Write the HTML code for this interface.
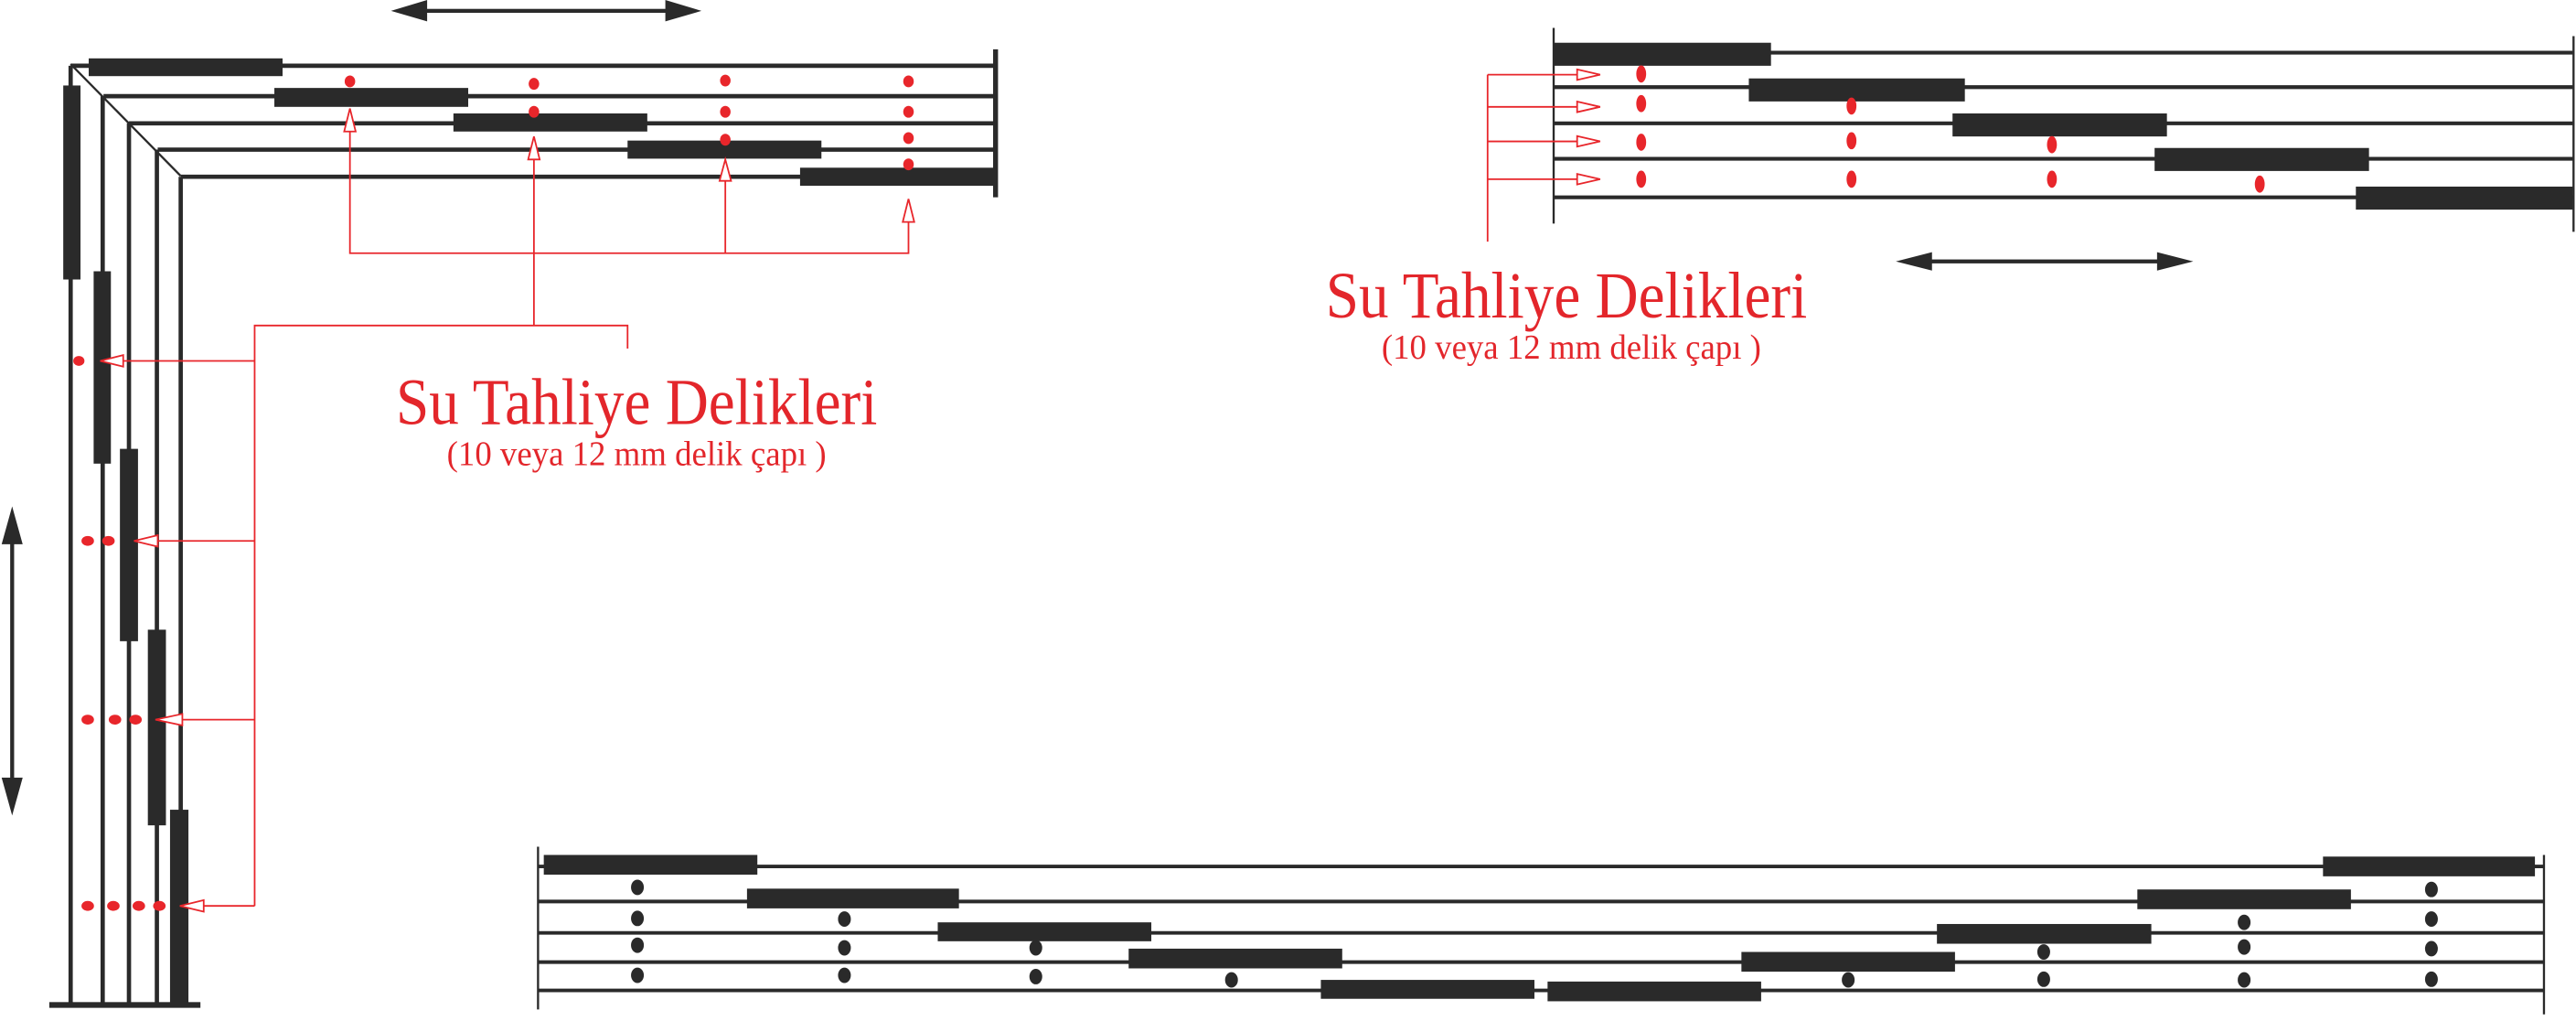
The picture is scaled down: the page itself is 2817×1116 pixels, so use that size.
<!DOCTYPE html>
<html><head><meta charset="utf-8"><style>
html,body{margin:0;padding:0;background:#fff;}
svg{display:block;}
</style></head><body>
<svg width="2817" height="1116" viewBox="0 0 1568 621" preserveAspectRatio="none" xmlns="http://www.w3.org/2000/svg">
<g stroke="#2a2a2a" stroke-width="2.6" fill="none">
  <path d="M43 40 H606 M63 58.5 H606 M78.5 75 H606 M96 91 H606 M110 107.5 H606"/>
  <path d="M43 40 V611 M62.5 58.5 V611 M78.5 75 V611 M95.5 91 V611 M110 107.5 V611"/>
  <path d="M43 39 L110 107" stroke-width="1.3"/>
</g>
<g fill="#2a2a2a">
  <rect x="604.5" y="30" width="3" height="90"/>
  <rect x="30" y="609.5" width="92" height="3.5"/>
  <rect x="54" y="35.5" width="118" height="10.8"/>
  <rect x="167" y="53.5" width="118" height="11.5"/>
  <rect x="276" y="69" width="118" height="11"/>
  <rect x="382" y="85.5" width="118" height="11"/>
  <rect x="487" y="102" width="119" height="11"/>
  <rect x="38.5" y="52" width="10.5" height="118"/>
  <rect x="57" y="165" width="10.5" height="117"/>
  <rect x="73" y="273" width="11" height="117"/>
  <rect x="90" y="383" width="11" height="119"/>
  <rect x="103.5" y="492.5" width="11.2" height="118"/>
  <rect x="258" y="5.4" width="152" height="2.4"/>
  <polygon points="238,6.6 260,0 260,13"/>
  <polygon points="427,6.6 405,0 405,13"/>
  <rect x="6.2" y="325" width="2.4" height="155"/>
  <polygon points="7.4,308 1,331 13.8,331"/>
  <polygon points="7.4,496 1,473 13.8,473"/>
</g>
<g fill="#e8262b">
  <ellipse cx="213" cy="49.5" rx="3.2" ry="3.6"/>
  <ellipse cx="325" cy="51" rx="3.2" ry="3.6"/>
  <ellipse cx="325" cy="68" rx="3.2" ry="3.6"/>
  <ellipse cx="441.5" cy="49" rx="3.2" ry="3.6"/>
  <ellipse cx="441.5" cy="68" rx="3.2" ry="3.6"/>
  <ellipse cx="441.5" cy="85" rx="3.2" ry="3.6"/>
  <ellipse cx="553" cy="49.5" rx="3.2" ry="3.6"/>
  <ellipse cx="553" cy="68" rx="3.2" ry="3.6"/>
  <ellipse cx="553" cy="84" rx="3.2" ry="3.6"/>
  <ellipse cx="553" cy="100" rx="3.2" ry="3.6"/>
  <ellipse cx="48" cy="219.5" rx="3.4" ry="3"/>
  <ellipse cx="53.4" cy="329" rx="3.8" ry="3"/>
  <ellipse cx="66" cy="329" rx="3.8" ry="3"/>
  <ellipse cx="53.4" cy="437.7" rx="3.8" ry="3"/>
  <ellipse cx="70" cy="437.7" rx="3.8" ry="3"/>
  <ellipse cx="82.5" cy="437.7" rx="3.8" ry="3"/>
  <ellipse cx="53.4" cy="551" rx="3.8" ry="3"/>
  <ellipse cx="69" cy="551" rx="3.8" ry="3"/>
  <ellipse cx="84.5" cy="551" rx="3.8" ry="3"/>
  <ellipse cx="97" cy="551" rx="3.8" ry="3"/>
</g>
<g stroke="#e8262b" stroke-width="1" fill="none">
  <path d="M213 80 V154 H553 V135 M325 97 V198 M441.5 110 V154"/>
  <path d="M155 551 V198 H382 V212"/>
  <path d="M155 219.5 H75 M155 329 H96 M155 437.7 H111 M155 551 H124"/>
</g>
<g stroke="#e8262b" stroke-width="1" fill="#fff">
  <polygon points="213,66 209.5,80 216.5,80"/>
  <polygon points="325,83 321.5,97 328.5,97"/>
  <polygon points="441.5,97 438,110 445,110"/>
  <polygon points="553,121 549.5,135 556.5,135"/>
  <polygon points="61,219.5 75,216 75,223"/>
  <polygon points="81.6,329 96,325.5 96,332.5"/>
  <polygon points="94.6,437.7 111,434.2 111,441.2"/>
  <polygon points="109.5,551 124,547.5 124,554.5"/>
</g>
<g font-family="'Liberation Serif', serif" fill="#e3262b">
  <text x="241" y="258" font-size="40" textLength="293" lengthAdjust="spacingAndGlyphs">Su Tahliye Delikleri</text>
  <text x="272" y="283" font-size="21" textLength="231" lengthAdjust="spacingAndGlyphs">(10 veya 12 mm delik çapı )</text>
  <text x="807" y="193" font-size="40" textLength="293" lengthAdjust="spacingAndGlyphs">Su Tahliye Delikleri</text>
  <text x="841" y="218" font-size="21" textLength="231" lengthAdjust="spacingAndGlyphs">(10 veya 12 mm delik çapı )</text>
</g>
<g stroke="#2a2a2a" stroke-width="2.3" fill="none">
  <path d="M946 32 H1566 M946 53 H1566 M946 75 H1566 M946 96.6 H1566 M946 120 H1566"/>
  <path d="M945.7 17 V136 M1566.5 22 V141" stroke-width="1.3"/>
</g>
<g fill="#2a2a2a">
  <rect x="946" y="26" width="132" height="14"/>
  <rect x="1064.5" y="47.7" width="131.5" height="14"/>
  <rect x="1188.5" y="69" width="130.5" height="14"/>
  <rect x="1311.5" y="90" width="130.5" height="14"/>
  <rect x="1434" y="113.5" width="132" height="14"/>
  <rect x="1163" y="157.8" width="154" height="2.4"/>
  <polygon points="1154,159 1176,153.4 1176,164.6"/>
  <polygon points="1335,159 1313,153.4 1313,164.6"/>
</g>
<g fill="#e8262b">
  <ellipse cx="999" cy="45" rx="3" ry="5.2"/>
  <ellipse cx="999" cy="63" rx="3" ry="5.2"/>
  <ellipse cx="999" cy="86.5" rx="3" ry="5.2"/>
  <ellipse cx="999" cy="109" rx="3" ry="5.2"/>
  <ellipse cx="1127" cy="64.5" rx="3" ry="5.2"/>
  <ellipse cx="1127" cy="85.6" rx="3" ry="5.2"/>
  <ellipse cx="1127" cy="109" rx="3" ry="5.2"/>
  <ellipse cx="1249" cy="88" rx="3" ry="5.2"/>
  <ellipse cx="1249" cy="109" rx="3" ry="5.2"/>
  <ellipse cx="1375.5" cy="112" rx="3" ry="5.2"/>
</g>
<g stroke="#e8262b" stroke-width="1" fill="none">
  <path d="M905.5 45.4 V147 M905.5 45.4 H960 M905.5 65 H960 M905.5 86 H960 M905.5 109 H960"/>
</g>
<g stroke="#e8262b" stroke-width="1" fill="#fff">
  <polygon points="974,45.4 960,42.2 960,48.6"/>
  <polygon points="974,65 960,61.8 960,68.2"/>
  <polygon points="974,86 960,82.8 960,89.2"/>
  <polygon points="974,109 960,105.8 960,112.2"/>
</g>
<g stroke="#2a2a2a" stroke-width="2.2" fill="none">
  <path d="M328 527 H1548 M328 548.3 H1548 M328 567.4 H1548 M328 585.2 H1548 M328 602.4 H1548"/>
  <path d="M327.5 515 V614 M1548.5 520 V617" stroke-width="1.3"/>
</g>
<g fill="#2a2a2a">
  <rect x="331" y="520" width="130" height="12"/>
  <rect x="454.7" y="540.5" width="129" height="12"/>
  <rect x="570.8" y="561" width="130" height="11.5"/>
  <rect x="687" y="577" width="130" height="12"/>
  <rect x="804" y="596" width="130" height="11.5"/>
  <rect x="1414" y="521" width="129" height="12"/>
  <rect x="1301" y="541" width="130" height="12"/>
  <rect x="1179" y="562" width="130.5" height="12"/>
  <rect x="1060" y="579" width="130" height="12"/>
  <rect x="942" y="597" width="130" height="12"/>
  <ellipse cx="388" cy="539.7" rx="3.9" ry="4.7"/>
  <ellipse cx="388" cy="558.6" rx="3.9" ry="4.7"/>
  <ellipse cx="388" cy="574.9" rx="3.9" ry="4.7"/>
  <ellipse cx="388" cy="593.2" rx="3.9" ry="4.7"/>
  <ellipse cx="514" cy="559" rx="3.9" ry="4.7"/>
  <ellipse cx="514" cy="576.5" rx="3.9" ry="4.7"/>
  <ellipse cx="514" cy="593.2" rx="3.9" ry="4.7"/>
  <ellipse cx="630.5" cy="576.5" rx="3.9" ry="4.7"/>
  <ellipse cx="630.5" cy="594" rx="3.9" ry="4.7"/>
  <ellipse cx="749.6" cy="596" rx="3.9" ry="4.7"/>
  <ellipse cx="1480" cy="541" rx="3.9" ry="4.7"/>
  <ellipse cx="1480" cy="559" rx="3.9" ry="4.7"/>
  <ellipse cx="1480" cy="577" rx="3.9" ry="4.7"/>
  <ellipse cx="1480" cy="595.6" rx="3.9" ry="4.7"/>
  <ellipse cx="1366" cy="561" rx="3.9" ry="4.7"/>
  <ellipse cx="1366" cy="576" rx="3.9" ry="4.7"/>
  <ellipse cx="1366" cy="596" rx="3.9" ry="4.7"/>
  <ellipse cx="1244" cy="579" rx="3.9" ry="4.7"/>
  <ellipse cx="1244" cy="595.6" rx="3.9" ry="4.7"/>
  <ellipse cx="1125" cy="596" rx="3.9" ry="4.7"/>
</g>
</svg>
</body></html>
